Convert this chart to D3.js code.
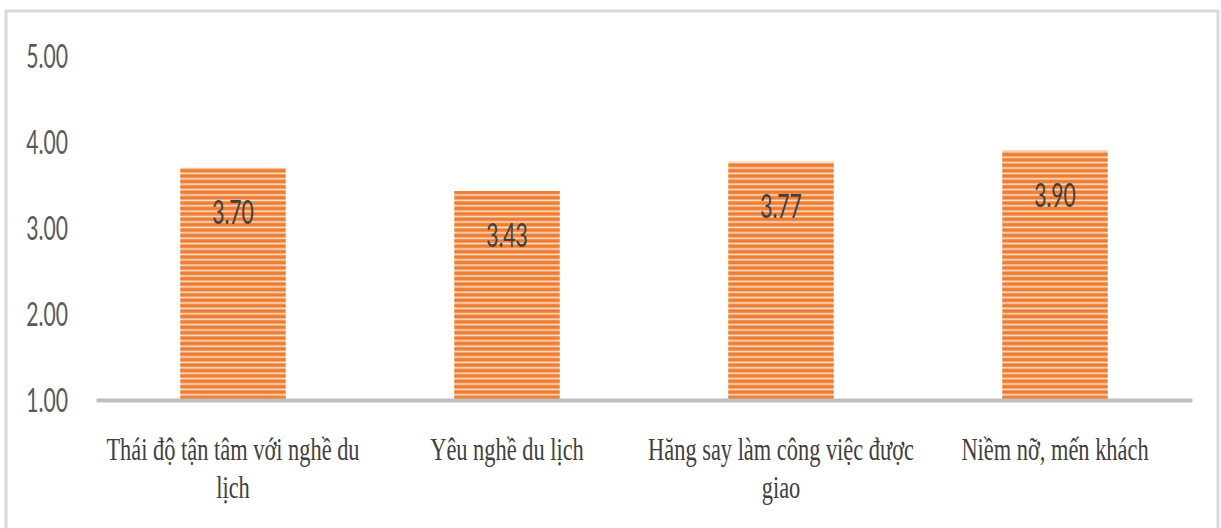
<!DOCTYPE html>
<html>
<head>
<meta charset="utf-8">
<script src="https://cdn.jsdelivr.net/npm/d3@7"></script>
<style>
  body { margin: 0; background: #fff; }
  svg { display: block; }
</style>
</head>
<body>
<div id="chart"></div>
<script>
const categories = ['Thái độ tận tâm với nghề du lịch', 'Yêu nghề du lịch', 'Hăng say làm công việc được giao', 'Niềm nỡ, mến khách'];
const values = [3.70, 3.43, 3.77, 3.90];
const yTicks = [1, 2, 3, 4, 5];

const W = 1221, H = 528;
const margin = {'top':56,'right':29,'bottom':128,'left':96};
const width = W - margin.left - margin.right;
const height = H - margin.top - margin.bottom;
const squeeze = 0.64;    // numbers look narrow, so text gets squeezed horizontally
const squeezeCat = 0.70; // category labels

var svg = d3.select('#chart').append('svg')
  .attr('width', W).attr('height', H);

// outer frame
svg.append('rect')
  .attr('x', 6).attr('y', 11)
  .attr('width', W - 9).attr('height', H + 20)
  .attr('fill', 'none')
  .attr('stroke', '#d9d9d9')
  .attr('stroke-width', 3);

// striped fill
var defs = svg.append('defs');
var pat = defs.append('pattern')
  .attr('id', 'stripes')
  .attr('patternUnits', 'userSpaceOnUse')
  .attr('width', 10).attr('height', 5.4);
pat.append('rect').attr('width', 10).attr('height', 5.4).attr('fill', '#f08f4f');
pat.append('rect').attr('y', 0).attr('width', 10).attr('height', 2.6).attr('fill', '#ed7d31');
pat.append('rect').attr('y', 3.3).attr('width', 10).attr('height', 1.4).attr('fill', '#fde0cc');

var g = svg.append('g')
  .attr('transform', `translate(${margin.left},${margin.top})`);

var y = d3.scaleLinear().domain([1, 5]).range([height, 0]);
var x = d3.scaleBand().domain(categories).range([0, width]).padding(0);
const barW = x.bandwidth() * 0.385;

// y axis labels only
var yAxis = g.append('g')
  .call(d3.axisLeft(y).tickValues(yTicks).tickFormat(d3.format('.2f')).tickSize(0));
yAxis.select('.domain').remove();
yAxis.selectAll('text')
  .attr('x', -28 / squeeze)
  .attr('dy', '0.35em')
  .attr('transform', `scale(${squeeze},1)`)
  .style('font-family', 'Lato, "Liberation Sans", sans-serif')
  .style('font-size', '33px')
  .attr('fill', '#595959');

// bars
g.selectAll('.bar')
  .data(values)
  .enter().append('rect')
  .attr('class', 'bar')
  .attr('x', (d, i) => x(categories[i]) + x.bandwidth() / 2 - barW / 2)
  .attr('y', d => y(d))
  .attr('width', barW)
  .attr('height', d => y(1) - y(d))
  .attr('fill', 'url(#stripes)');

// data labels
g.selectAll('.lbl')
  .data(values)
  .enter().append('text')
  .attr('class', 'lbl')
  .attr('transform', (d, i) => `translate(${x(categories[i]) + x.bandwidth() / 2},${y(d) + 56}) scale(${squeeze},1)`)
  .attr('text-anchor', 'middle')
  .style('font-family', 'Lato, "Liberation Sans", sans-serif')
  .style('font-size', '33px')
  .attr('fill', '#404040')
  .text(d => d3.format('.2f')(d));

// x axis
var xAxis = g.append('g')
  .attr('transform', `translate(0,${height})`)
  .call(d3.axisBottom(x).tickSize(0));
xAxis.select('.domain')
  .attr('stroke', '#bfbfbf')
  .attr('stroke-width', 4);
xAxis.selectAll('text')
  .attr('y', 0)
  .attr('dy', 0)
  .attr('transform', `translate(0,60) scale(${squeezeCat},1)`)
  .style('font-family', '"Liberation Serif", "Times New Roman", serif')
  .style('font-size', '32px')
  .attr('fill', '#404040')
  .each(wrap);

function wrap() {
  var self = d3.select(this);
  var words = self.text().split(/\s+/);
  var maxW = 275 / squeezeCat;
  var line = [];
  self.text(null);
  var tspan = self.append('tspan').attr('x', 0).attr('dy', 0);
  words.forEach(function(w) {
    line.push(w);
    tspan.text(line.join(' '));
    if (tspan.node().getComputedTextLength() > maxW && line.length > 1) {
      line.pop();
      tspan.text(line.join(' '));
      line = [w];
      tspan = self.append('tspan').attr('x', 0).attr('dy', '38px').text(w);
    }
  });
}
</script>
</body>
</html>
